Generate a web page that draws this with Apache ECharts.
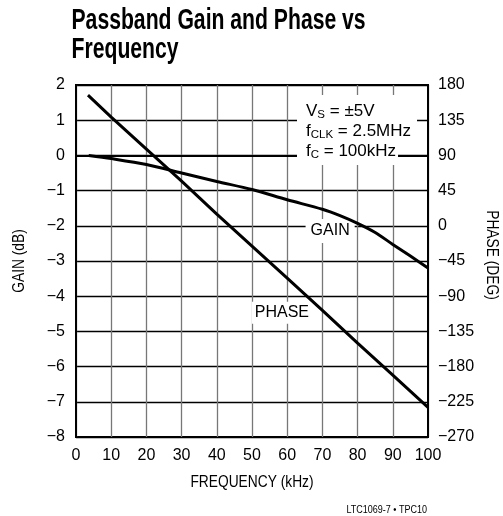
<!DOCTYPE html>
<html>
<head>
<meta charset="utf-8">
<script src="https://cdn.jsdelivr.net/npm/echarts@6/dist/echarts.min.js"></script>
<style>
  html, body { margin: 0; padding: 0; background: #fff; overflow: hidden; }
  #chart { width: 503px; height: 516px; }
</style>
</head>
<body>
<div id="chart"></div>
<script>
// Passband gain (dB) and phase (deg) of the filter versus frequency (kHz)
const gainFreq = [3.6, 10, 20, 30, 40, 50, 60, 70, 75, 80, 85, 90, 95, 100];
const gainDb   = [0, -0.09, -0.26, -0.5, -0.74, -0.97, -1.26, -1.53, -1.71, -1.93, -2.19, -2.53, -2.86, -3.2];
const phaseFreq = [3.4, 10, 20, 30, 40, 50, 60, 70, 80, 90, 100];
const phaseDeg  = [167, 139, 98, 57, 15, -26, -67, -108, -150, -191, -232];

const xTicks = { min: 0, max: 100, step: 10 };
const gainTicks = { min: -8, max: 2, step: 1 };
const phaseTicks = { min: -270, max: 180, step: 45 };

const FONT = '"Liberation Sans", Arial, sans-serif';
const minus = v => String(v).replace('-', '\u2212');

const chart = echarts.init(document.getElementById('chart'), null, { renderer: 'canvas' });

const labelStyle = { color: '#000', fontSize: 16, fontFamily: FONT };
const mainText = { fontSize: 17, fontFamily: FONT, fill: '#000', lineHeight: 20 };
const subText = { fontSize: 11.5, fontFamily: FONT, fill: '#000', lineHeight: 12, verticalAlign: 'bottom' };

// axis titles are set in a condensed face: regular glyphs squeezed horizontally
function axisTitle(text, x, y, rotation) {
  return {
    type: 'text', x: x, y: y, rotation: rotation, scaleX: 0.81, z: 20,
    style: {
      text: text, font: '17px ' + FONT, fill: '#000',
      textAlign: 'center', textVerticalAlign: 'middle'
    }
  };
}

chart.setOption({
  backgroundColor: '#fff',
  animation: false,
  grid: {
    left: 76, top: 85, width: 352, height: 352,
    outerBoundsMode: 'none',
    containLabel: false,
    show: true, borderColor: '#000', borderWidth: 2, backgroundColor: '#fff'
  },
  xAxis: {
    type: 'value',
    min: xTicks.min, max: xTicks.max, interval: xTicks.step,
    axisLine: { show: true, lineStyle: { color: '#000', width: 2 } },
    axisTick: { show: false },
    axisLabel: Object.assign({ margin: 11 }, labelStyle),
    splitLine: { show: true, lineStyle: { color: '#777', width: 1.3 } }
  },
  yAxis: [
    {
      type: 'value', position: 'left',
      min: gainTicks.min, max: gainTicks.max, interval: gainTicks.step,
      axisLine: { show: true, lineStyle: { color: '#000', width: 2 } },
      axisTick: { show: false },
      axisLabel: Object.assign({ margin: 11, formatter: minus }, labelStyle),
      splitLine: { show: true, lineStyle: { color: '#000', width: 1.3 } }
    },
    {
      type: 'value', position: 'right',
      min: phaseTicks.min, max: phaseTicks.max, interval: phaseTicks.step,
      axisLine: { show: true, lineStyle: { color: '#000', width: 2 } },
      axisTick: { show: false },
      axisLabel: Object.assign({ margin: 10, formatter: minus }, labelStyle),
      splitLine: { show: false }
    }
  ],
  series: [
    {
      name: 'GAIN',
      type: 'line',
      yAxisIndex: 0,
      data: gainFreq.map((f, i) => [f, gainDb[i]]),
      showSymbol: false,
      smooth: 0.3,
      lineStyle: { color: '#000', width: 3 },
      z: 5,
      markPoint: {
        symbol: 'rect', symbolSize: 0,
        data: [{ coord: [72.2, -2.15], value: 'GAIN' }],
        label: {
          show: true, position: 'inside', formatter: 'GAIN',
          color: '#000', fontSize: 16, fontFamily: FONT,
          backgroundColor: '#fff', padding: [4, 5]
        }
      }
    },
    {
      name: 'PHASE',
      type: 'line',
      yAxisIndex: 1,
      data: phaseFreq.map((f, i) => [f, phaseDeg[i]]),
      showSymbol: false,
      lineStyle: { color: '#000', width: 3 },
      z: 5,
      markPoint: {
        symbol: 'rect', symbolSize: 0,
        data: [{ coord: [58.5, -111], value: 'PHASE' }],
        label: {
          show: true, position: 'inside', formatter: 'PHASE',
          color: '#000', fontSize: 16, fontFamily: FONT,
          backgroundColor: '#fff', padding: [3, 3]
        }
      }
    }
  ],
  graphic: [
    {
      type: 'text', x: 71.5, y: 6, z: 20, scaleX: 0.73,
      style: {
        text: 'Passband Gain and Phase vs\nFrequency',
        font: 'bold 29px ' + FONT, lineHeight: 29, fill: '#000'
      }
    },
    axisTitle('FREQUENCY (kHz)', 252, 482, 0),
    axisTitle('GAIN (dB)', 19, 261, Math.PI / 2),
    axisTitle('PHASE (DEG)', 492, 255, -Math.PI / 2),
    {
      type: 'text', x: 297, y: 95, z: 20,
      style: {
        text: '{m|V}{s|S}{m| = ±5V}\n{m|f}{s|CLK}{m| = 2.5MHz}',
        backgroundColor: '#fff', padding: [6, 6, 2, 9],
        rich: { m: mainText, s: subText }
      }
    },
    {
      type: 'text', x: 297, y: 140, z: 20,
      style: {
        text: '{m|f}{s|C}{m| = 100kHz}',
        backgroundColor: '#fff', padding: [1, 2, 4, 9],
        rich: { m: mainText, s: subText }
      }
    },
    {
      type: 'text', x: 427, y: 510, z: 20, scaleX: 0.9, originX: 0,
      style: {
        text: 'LTC1069-7 • TPC10',
        font: '10px ' + FONT, fill: '#000',
        textAlign: 'right', textVerticalAlign: 'middle'
      }
    }
  ]
});
</script>
</body>
</html>
